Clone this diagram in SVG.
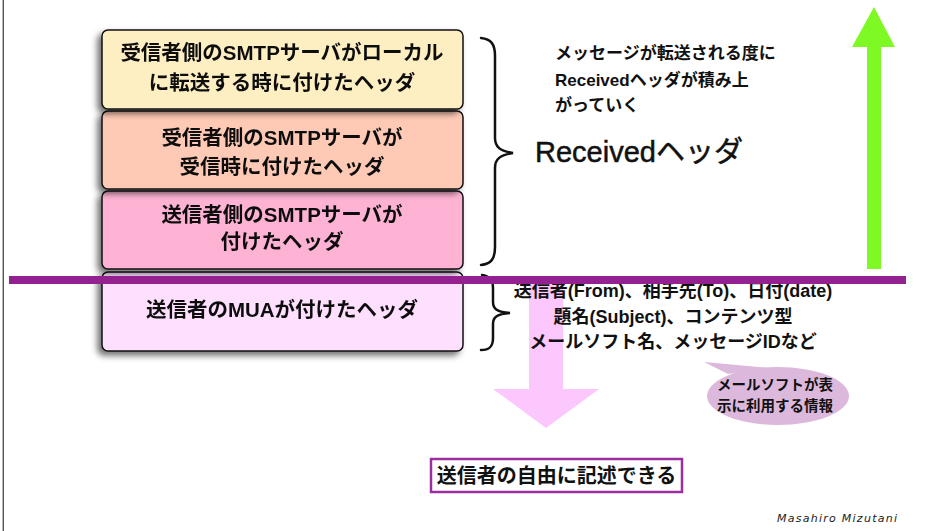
<svg xmlns="http://www.w3.org/2000/svg" width="928" height="531" viewBox="0 0 928 531">
<style>
text{font-family:"Liberation Sans","Noto Sans CJK JP",sans-serif;fill:#111;}
.bx{stroke:#111;stroke-width:1.5;}
.t20{font-size:20.5px;font-weight:bold;text-anchor:middle;}
.t17{font-size:17px;font-weight:bold;}
.t18{font-size:18px;font-weight:bold;text-anchor:middle;}
.brace{fill:none;stroke:#111;stroke-width:2.5;stroke-linecap:round;}
</style>
<defs>
<filter id="sh" x="-10%" y="-20%" width="120%" height="150%">
<feDropShadow dx="-4" dy="4" stdDeviation="3" flood-color="#000" flood-opacity="0.55"/>
</filter>
</defs>
<rect x="0" y="0" width="928" height="531" fill="#fff"/>
<line x1="3.3" y1="0" x2="3.3" y2="531" stroke="#555" stroke-width="1.4"/>

<g id="box4" filter="url(#sh)">
<rect class="bx" x="102" y="272" width="361" height="79" rx="6" fill="#FEE0FE"/>
<text class="t20" x="282" y="317">送信者のMUAが付けたヘッダ</text>
</g>
<g id="box3" filter="url(#sh)">
<rect class="bx" x="102" y="191" width="361" height="78" rx="6" fill="#FFB3D4"/>
<text class="t20" x="282" y="222">送信者側のSMTPサーバが</text>
<text class="t20" x="282" y="249">付けたヘッダ</text>
</g>
<g id="box2" filter="url(#sh)">
<rect class="bx" x="102" y="111" width="361" height="78" rx="6" fill="#FFCAB5"/>
<text class="t20" x="282" y="145">受信者側のSMTPサーバが</text>
<text class="t20" x="282" y="174">受信時に付けたヘッダ</text>
</g>
<g id="box1" filter="url(#sh)">
<rect class="bx" x="102" y="30" width="361" height="79" rx="6" fill="#FEEFC3"/>
<text class="t20" x="282" y="60">受信者側のSMTPサーバがローカル</text>
<text class="t20" x="282" y="90">に転送する時に付けたヘッダ</text>
</g>

<g id="connectors">
<path class="brace" d="M481,38 C491,39 495,44 495,56 L495,138 C495,147 500,151 513,153 C500,155 495,159 495,168 L495,247 C495,259 491,264 481,265"/>
<path class="brace" d="M482,275 C490,276 493,280 493,288 L493,302 C493,309 497,312 510,313 C497,314 493,317 493,324 L493,338 C493,346 490,350 481,350"/>
<polygon id="arrow-down" points="529,284 563,284 563,389 599,389 546,428 493,389 529,389" fill="#FCC7FC"/>
<polygon id="arrow-up" points="867,269 881,269 881,47 895,47 874,7 852,47 867,47" fill="#7FF924"/>
</g>

<g id="received-note">
<text class="t17" x="555" y="59">メッセージが転送される度に</text>
<text class="t17" x="555" y="86">Receivedヘッダが積み上</text>
<text class="t17" x="555" y="111">がっていく</text>
</g>
<g id="received-label">
<text x="535" y="162" style="font-size:29px;font-weight:normal;stroke:#111;stroke-width:0.5">Receivedヘッダ</text>
</g>

<g id="mua-info">
<text class="t18" x="673" y="297">送信者(From)、相手先(To)、日付(date)</text>
<text class="t18" x="673" y="323">題名(Subject)、コンテンツ型</text>
<text class="t18" x="673" y="348">メールソフト名、メッセージIDなど</text>
</g>

<g id="bubble">
<path d="M704,362 L728,374 L770,368 Z" fill="#DCB9DC"/>
<ellipse cx="778" cy="396" rx="71" ry="29" fill="#DCB9DC"/>
<text x="775" y="390" style="font-size:14.5px;font-weight:bold;text-anchor:middle">メールソフトが表</text>
<text x="775" y="411" style="font-size:14.5px;font-weight:bold;text-anchor:middle">示に利用する情報</text>
</g>

<g id="divider">
<rect x="9" y="276" width="897" height="8" fill="#93218F"/>
</g>

<g id="free-box">
<rect x="431" y="459" width="251" height="33" fill="#fff" stroke="#9B2FA0" stroke-width="2.5"/>
<text x="556.5" y="482.5" style="font-size:20px;font-weight:bold;text-anchor:middle">送信者の自由に記述できる</text>
</g>

<text x="777" y="522" textLength="120" style="font-family:'DejaVu Sans',sans-serif;font-size:11px;font-style:italic;fill:#222">Masahiro Mizutani</text>
</svg>
